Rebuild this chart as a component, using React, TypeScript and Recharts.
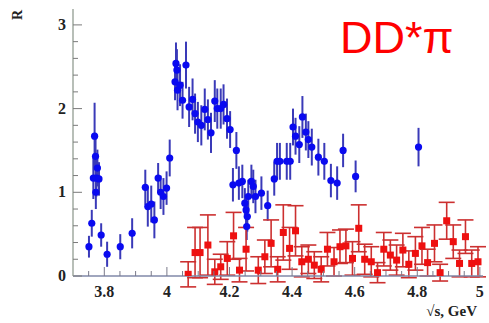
import { ErrorBar, Scatter, ScatterChart, XAxis, YAxis } from 'recharts'

// blue: DD*pi cross section points
const blueX = [
  3.751, 3.76, 3.765, 3.769, 3.772, 3.775, 3.773, 3.778, 3.783, 3.79, 3.809, 3.851, 3.889, 3.931, 3.939, 3.95,
  3.96, 3.972, 3.98, 3.989, 3.999, 4.009, 4.026, 4.029, 4.032, 4.034, 4.042, 4.05, 4.061, 4.071, 4.082, 4.09,
  4.099, 4.11, 4.121, 4.131, 4.141, 4.153, 4.161, 4.172, 4.181, 4.192, 4.202, 4.211, 4.222, 4.23, 4.241, 4.249,
  4.253, 4.255, 4.257, 4.26, 4.27, 4.276, 4.283, 4.302, 4.322, 4.343, 4.352, 4.361, 4.383, 4.394, 4.403, 4.411,
  4.423, 4.433, 4.444, 4.452, 4.463, 4.484, 4.503, 4.524, 4.544, 4.563, 4.603, 4.804,
]
const blueY = [
  0.35, 0.63, 1.17, 1.67, 1.43, 1.17, 1.0, 1.29, 1.16, 0.49, 0.26, 0.35, 0.51, 1.06, 0.83, 0.86,
  0.67, 1.17, 1.0, 0.95, 1.05, 1.41, 2.32, 2.54, 2.46, 2.22, 2.28, 2.1, 2.52, 2.02, 2.11, 1.94,
  1.84, 1.8, 1.99, 1.87, 1.71, 2.09, 2.0, 2.0, 2.05, 1.88, 1.75, 1.09, 1.5, 1.11, 1.13, 0.87,
  0.79, 0.59, 0.71, 0.95, 1.13, 1.07, 0.95, 0.99, 0.84, 1.16, 1.37, 1.37, 1.37, 1.37, 1.78, 1.67,
  1.57, 1.9, 1.72, 1.63, 1.54, 1.42, 1.37, 1.14, 1.11, 1.5, 1.19, 1.54,
]
const blueErr = [
  0.13, 0.16, 0.25, 0.4, 0.28, 0.22, 0.2, 0.22, 0.2, 0.14, 0.15, 0.15, 0.18, 0.21, 0.24, 0.22,
  0.22, 0.18, 0.2, 0.22, 0.2, 0.22, 0.22, 0.25, 0.25, 0.24, 0.25, 0.22, 0.28, 0.24, 0.25, 0.24,
  0.24, 0.24, 0.25, 0.24, 0.24, 0.25, 0.24, 0.24, 0.24, 0.24, 0.22, 0.2, 0.22, 0.2, 0.2, 0.18,
  0.18, 0.16, 0.18, 0.2, 0.2, 0.2, 0.2, 0.2, 0.18, 0.2, 0.22, 0.22, 0.22, 0.22, 0.22, 0.22,
  0.22, 0.25, 0.22, 0.22, 0.22, 0.22, 0.22, 0.2, 0.2, 0.2, 0.19, 0.23,
]

// red: second channel
const redX = [
  4.068, 4.09, 4.106, 4.131, 4.153, 4.172, 4.193, 4.213, 4.232, 4.253, 4.292, 4.313, 4.333, 4.354, 4.372, 4.392,
  4.411, 4.431, 4.452, 4.471, 4.493, 4.513, 4.534, 4.553, 4.572, 4.593, 4.613, 4.632, 4.653, 4.673, 4.693, 4.714,
  4.734, 4.754, 4.773, 4.794, 4.815, 4.833, 4.855, 4.873, 4.894, 4.915, 4.935, 4.954, 4.974, 4.994,
]
const redY = [
  0.02, 0.28, 0.28, 0.37, 0.05, 0.11, 0.21, 0.48, 0.07, 0.32, 0.07, 0.23, 0.39, 0.08, 0.52, 0.33,
  0.54, 0.17, 0.2, 0.13, 0.08, 0.32, 0.17, 0.35, 0.36, 0.21, 0.57, 0.2, 0.17, 0.04, 0.32, 0.25,
  0.19, 0.31, 0.14, 0.27, 0.36, 0.16, 0.39, 0.04, 0.66, 0.41, 0.15, 0.47, 0.15, 0.17,
]
const redErr = [
  0.15, 0.3, 0.3, 0.36, 0.15, 0.15, 0.2, 0.28, 0.14, 0.26, 0.16, 0.2, 0.28, 0.15, 0.33, 0.25,
  0.3, 0.18, 0.17, 0.16, 0.15, 0.2, 0.17, 0.2, 0.2, 0.2, 0.28, 0.18, 0.18, 0.12, 0.2, 0.18,
  0.18, 0.2, 0.16, 0.2, 0.22, 0.16, 0.22, 0.1, 0.22, 0.2, 0.16, 0.2, 0.16, 0.18,
]

const xTicks = [
  3.7, 3.75, 3.8, 3.85, 3.9, 3.95, 4, 4.05, 4.1, 4.15, 4.2, 4.25, 4.3, 4.35, 4.4, 4.45, 4.5, 4.55, 4.6, 4.65,
  4.7, 4.75, 4.8, 4.85, 4.9, 4.95, 5,
]
const yTicks = [0, 0.2, 0.4, 0.6, 0.8, 1, 1.2, 1.4, 1.6, 1.8, 2, 2.2, 2.4, 2.6, 2.8, 3]

const blue = blueX.map((x, i) => ({ x, y: blueY[i], err: blueErr[i] }))
const red = redX.map((x, i) => ({ x, y: redY[i], err: redErr[i] }))

const serif = '"Liberation Serif", "DejaVu Serif", serif'
const isWhole = (v: number, step: number) => Math.abs(v / step - Math.round(v / step)) < 1e-6

function XTick({ x, y, payload }: any) {
  const v = payload.value as number
  const major = isWhole(v, 0.2)
  if (v < 3.75) return null
  return (
    <g>
      <line x1={x} x2={x} y1={y} y2={y - (major ? 9 : 5)} stroke="#7a7a8a" strokeWidth={1} />
      {major && (
        <text x={x} y={y + 21} textAnchor="middle" fontFamily={serif} fontWeight="bold" fontSize={16} fill="#222">
          {Number(v.toFixed(1)).toString()}
        </text>
      )}
    </g>
  )
}

function YTick({ x, y, payload }: any) {
  const v = payload.value as number
  const major = isWhole(v, 1)
  return (
    <g>
      <line x1={x} x2={x + (major ? 9 : 5)} y1={y} y2={y} stroke="#7a7a7a" strokeWidth={1} />
      {major && (
        <text x={x - 7} y={y + 5} textAnchor="end" fontFamily={serif} fontWeight="bold" fontSize={16} fill="#222">
          {v}
        </text>
      )}
    </g>
  )
}

export default function App() {
  return (
    <div style={{ position: 'absolute', left: 0, top: 0, width: 489, height: 323, background: '#fff' }}>
      <ScatterChart width={489} height={323} margin={{ top: 9, right: 6, bottom: 0, left: 0 }}>
        <XAxis
          xAxisId="top"
          orientation="top"
          type="number"
          dataKey="x"
          domain={[3.7, 5.01]}
          allowDataOverflow
          height={0}
          tick={false}
          tickLine={false}
          axisLine={{ stroke: '#b8b8b8', strokeWidth: 1.5 }}
        />
        <YAxis
          yAxisId="right"
          orientation="right"
          type="number"
          dataKey="y"
          domain={[0, 3.19]}
          allowDataOverflow
          width={0}
          tick={false}
          tickLine={false}
          axisLine={{ stroke: '#b8b8b8', strokeWidth: 1.5 }}
        />
        <XAxis
          type="number"
          dataKey="x"
          domain={[3.7, 5.01]}
          allowDataOverflow
          ticks={xTicks}
          interval={0}
          height={47}
          tickSize={0}
          tickMargin={0}
          tickLine={false}
          axisLine={{ stroke: '#8088a8', strokeWidth: 1.5 }}
          tick={<XTick />}
        />
        <YAxis
          type="number"
          dataKey="y"
          domain={[0, 3.19]}
          allowDataOverflow
          ticks={yTicks}
          interval={0}
          width={73}
          tickSize={0}
          tickMargin={0}
          tickLine={false}
          axisLine={{ stroke: '#a0aaa0', strokeWidth: 1.5 }}
          tick={<YTick />}
        />
        <Scatter
          data={blue}
          isAnimationActive={false}
          shape={(p: any) => <circle cx={p.cx} cy={p.cy} r={3.6} fill="#0a0af0" />}
        >
          <ErrorBar dataKey="err" direction="y" width={0} stroke="#3a3ab8" strokeWidth={2} isAnimationActive={false} />
        </Scatter>
        <Scatter
          data={red}
          isAnimationActive={false}
          shape={(p: any) => <rect x={p.cx - 3.5} y={p.cy - 3.5} width={7} height={7} fill="#ee1010" />}
        >
          <ErrorBar dataKey="err" direction="y" width={8} stroke="#cc3030" strokeWidth={1.6} isAnimationActive={false} />
        </Scatter>
        <text x={0} y={0} transform="translate(22 15) rotate(-90)" textAnchor="middle" fontFamily={serif} fontWeight="bold" fontSize={14} fill="#222">
          R
        </text>
        <text x={340} y={53} fontFamily='"Liberation Sans", Arial, sans-serif' fontSize={45} fill="#ff0000">
          DD*π
        </text>
        <text x={477} y={316} textAnchor="end" fontFamily={serif} fontWeight="bold" fontSize={15} fill="#222">
          √s, GeV
        </text>
      </ScatterChart>
    </div>
  )
}
